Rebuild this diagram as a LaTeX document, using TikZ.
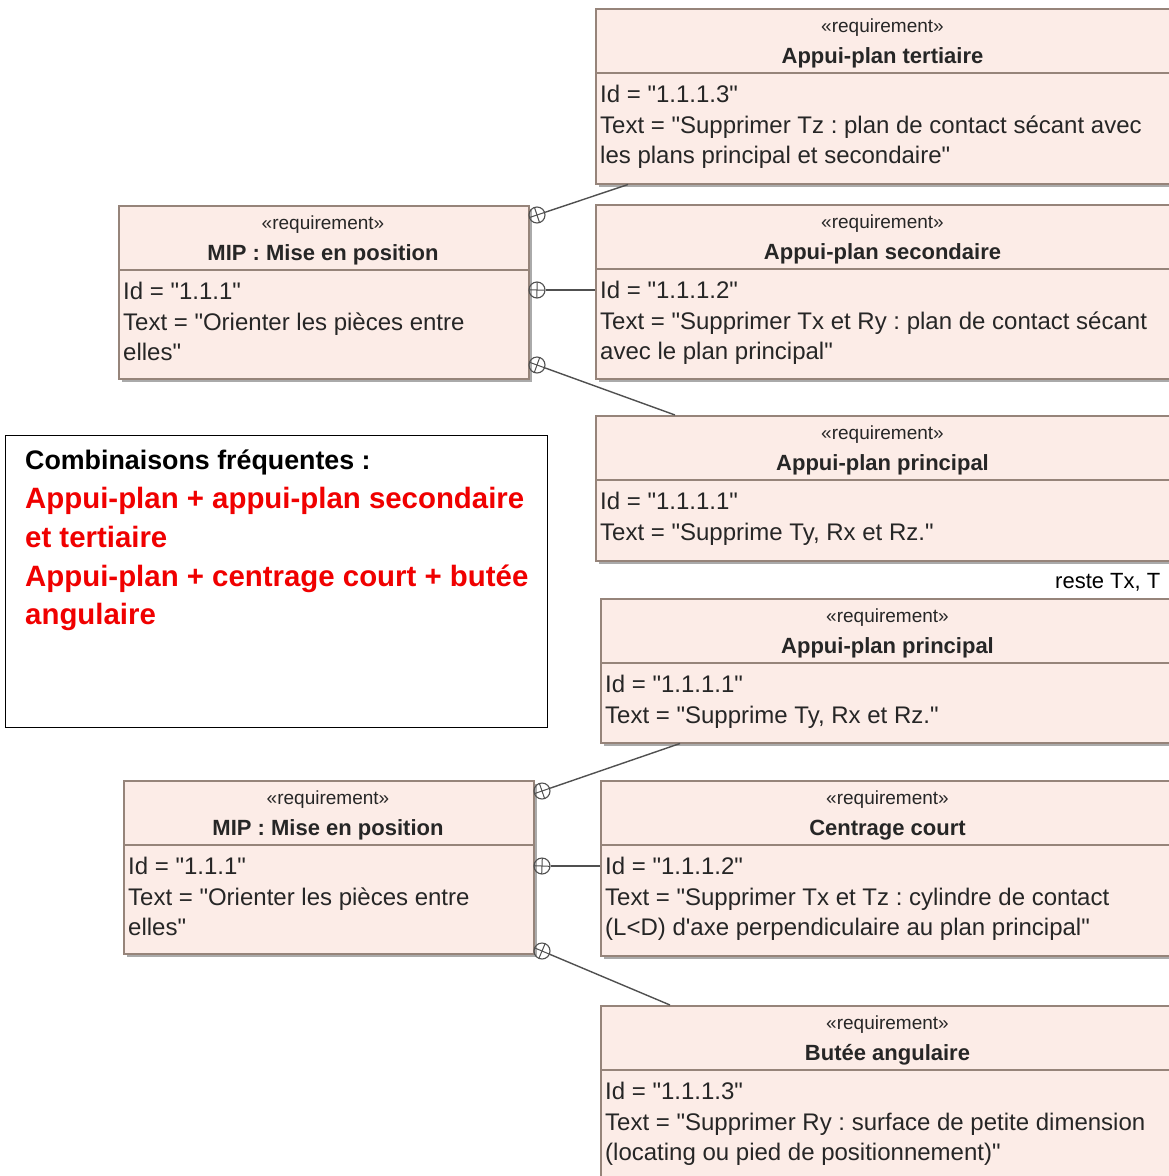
\documentclass[tikz,border=0pt]{standalone}
\usepackage{fontspec}
\setmainfont{Liberation Sans}[Ligatures=TeXOff]
\usetikzlibrary{calc}
\frenchspacing
\definecolor{reqfill}{RGB}{252,236,231}
\definecolor{reqline}{RGB}{150,132,122}
\definecolor{shadowc}{RGB}{170,170,170}
\definecolor{linkc}{RGB}{80,80,80}
\definecolor{notered}{RGB}{240,0,0}
\tikzset{
  reqbox/.style={draw=reqline, line width=1.5pt, fill=reqfill, inner sep=0pt, anchor=north west},
  stereo/.style={anchor=base, inner sep=0pt, font=\fontsize{19}{22}\selectfont, text=black!85},
  reqtitle/.style={anchor=base, inner sep=0pt, font=\fontsize{22}{26}\selectfont\bfseries, text=black!85},
  reqtext/.style={anchor=base west, inner sep=0pt, font=\fontsize{24}{30}\selectfont, text=black!85},
  cont/.style={circle, draw=linkc, line width=1.1pt, minimum size=16pt, inner sep=0pt},
  link/.style={draw=linkc, line width=1.4pt},
  notebox/.style={draw=black, line width=1.3pt, anchor=north west, inner sep=0pt},
  notehead/.style={anchor=base west, inner sep=0pt, font=\fontsize{26.8}{30}\selectfont\bfseries},
  notered/.style={anchor=base west, inner sep=0pt, font=\fontsize{29.4}{34}\selectfont\bfseries, text=notered},
  plain/.style={anchor=base west, inner sep=0pt, font=\fontsize{22}{26}\selectfont}
}
\newcommand{\reqblock}[9]{%
  \fill[shadowc] (#2+4,#3+4) rectangle ++(#4,#5);
  \node[reqbox, minimum width=#4pt, minimum height=#5pt] (#1) at (#2,#3) {};
  \draw[reqline, line width=1.2pt] (#2,#3+65) -- ++(#4,0);
  \node[stereo] (#1s) at (#2+#4/2,#3+24) {«requirement»};
  \node[reqtitle] (#1t) at (#2+#4/2,#3+55) {#6};
  \node[reqtext] (#1a) at (#2+5,#3+94.5) {#7};
  \node[reqtext] (#1b) at (#2+5,#3+125.5) {#8};
  \node[reqtext] (#1c) at (#2+5,#3+155.5) {#9};
}
\newcommand{\crossmark}[2]{%
  \draw[linkc, line width=1pt] ($(#1.center)!8pt!(#2)$) -- ($(#1.center)!-8pt!(#2)$);
  \draw[linkc, line width=1pt] ($(#1.center)!8pt!90:(#2)$) -- ($(#1.center)!8pt!-90:(#2)$);
}
\begin{document}
\begin{tikzpicture}[x=1pt,y=-1pt]
\useasboundingbox (0,0) rectangle (1168,1176);
\fill[white] (0,0) rectangle (1168,1176);

% top group
\reqblock{tA}{595}{8}{575}{175}{Appui-plan tertiaire}{Id = "1.1.1.3"}{Text = "Supprimer Tz : plan de contact sécant avec}{les plans principal et secondaire"}
\reqblock{tB}{595}{204}{575}{174}{Appui-plan secondaire}{Id = "1.1.1.2"}{Text = "Supprimer Tx et Ry : plan de contact sécant}{avec le plan principal"}
\reqblock{tC}{595}{415}{575}{145}{Appui-plan principal}{Id = "1.1.1.1"}{Text = "Supprime Ty, Rx et Rz."}{}
\reqblock{tM}{118}{205}{410}{173}{MIP : Mise en position}{Id = "1.1.1"}{Text = "Orienter les pièces entre}{elles"}

% bottom group
\reqblock{bA}{600}{598}{575}{144}{Appui-plan principal}{Id = "1.1.1.1"}{Text = "Supprime Ty, Rx et Rz."}{}
\reqblock{bB}{600}{780}{575}{175}{Centrage court}{Id = "1.1.1.2"}{Text = "Supprimer Tx et Tz : cylindre de contact}{(L<D) d'axe perpendiculaire au plan principal"}
\reqblock{bC}{600}{1005}{575}{175}{Butée angulaire}{Id = "1.1.1.3"}{Text = "Supprimer Ry : surface de petite dimension}{(locating ou pied de positionnement)"}
\reqblock{bM}{123}{780}{410}{173}{MIP : Mise en position}{Id = "1.1.1"}{Text = "Orienter les pièces entre}{elles"}

% connectors top
\coordinate (tAe) at ($(tA.south west)+(33,0)$);
\coordinate (tCe) at ($(tC.north west)+(80,0)$);
\node[cont] (c1) at (537,215) {};
\node[cont] (c2) at (537,290) {};
\node[cont] (c3) at (537,365) {};
\draw[link] (c1) -- (tAe);
\draw[link] (c2) -- (c2 -| tB.west);
\draw[link] (c3) -- (tCe);
\crossmark{c1}{tAe}
\crossmark{c2}{tB.west}
\crossmark{c3}{tCe}

% connectors bottom
\coordinate (bAe) at ($(bA.south west)+(80,0)$);
\coordinate (bCe) at ($(bC.north west)+(70,0)$);
\node[cont] (d1) at (542,791) {};
\node[cont] (d2) at (542,866) {};
\node[cont] (d3) at (542,951) {};
\draw[link] (d1) -- (bAe);
\draw[link] (d2) -- (d2 -| bB.west);
\draw[link] (d3) -- (bCe);
\crossmark{d1}{bAe}
\crossmark{d2}{bB.west}
\crossmark{d3}{bCe}

% note
\node[notebox, minimum width=542pt, minimum height=292pt] (note) at (5,435) {};
\node[notehead] (n0) at (25,469) {Combinaisons fréquentes :};
\node[notered] (n1) at (25,508) {Appui-plan + appui-plan secondaire};
\node[notered] (n2) at (25,547) {et tertiaire};
\node[notered] (n3) at (25,586) {Appui-plan + centrage court + butée};
\node[notered] (n4) at (25,624) {angulaire};

% side remark
\node[plain] (rest) at (1055,588) {reste Tx, T};
\end{tikzpicture}
\end{document}
